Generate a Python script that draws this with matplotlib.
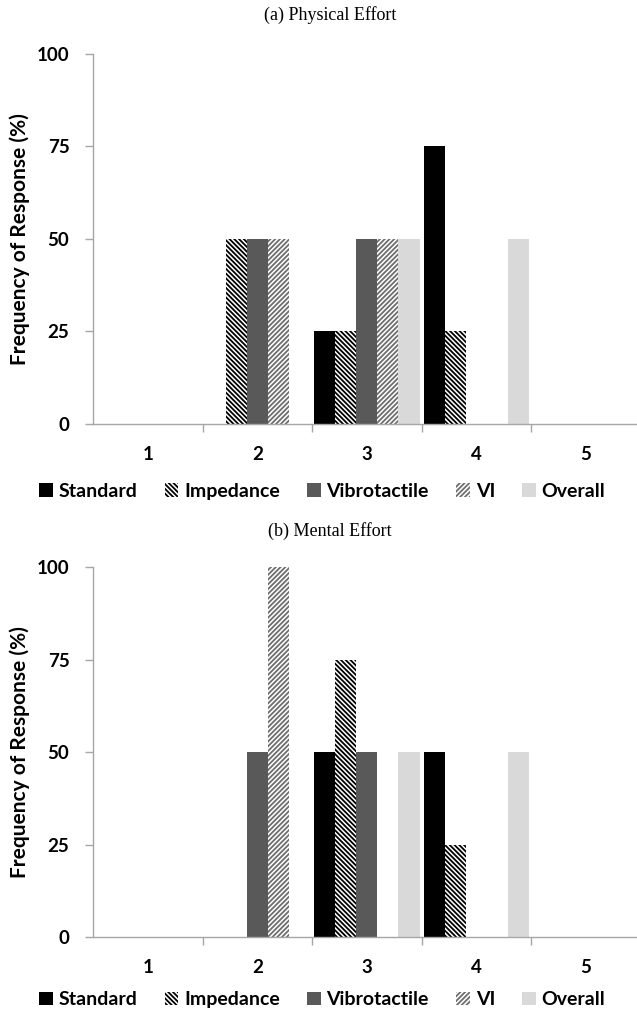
import numpy as np
import matplotlib.pyplot as plt
from matplotlib.patches import Patch

plt.rcParams['hatch.linewidth'] = 1.3

# datos
categorias = ["1", "2", "3", "4", "5"]
series = ["Standard", "Impedance", "Vibrotactile", "VI", "Overall"]

fisico = {
    "Standard":     [0, 0, 25, 75, 0],
    "Impedance":    [0, 50, 25, 25, 0],
    "Vibrotactile": [0, 50, 50, 0, 0],
    "VI":           [0, 50, 50, 0, 0],
    "Overall":      [0, 0, 50, 50, 0],
}
mental = {
    "Standard":     [0, 0, 50, 50, 0],
    "Impedance":    [0, 0, 75, 25, 0],
    "Vibrotactile": [0, 50, 50, 0, 0],
    "VI":           [0, 100, 0, 0, 0],
    "Overall":      [0, 0, 50, 50, 0],
}
yticks = [0, 25, 50, 75, 100]

# estilo de cada serie: (relleno, color de trama, trama)
estilos = {
    "Standard":     ("#000000", "#000000", None),
    "Impedance":    ("white", "#000000", "\\" * 7),
    "Vibrotactile": ("#595959", "#595959", None),
    "VI":           ("white", "#6e6e6e", "/" * 7),
    "Overall":      ("#d9d9d9", "#d9d9d9", None),
}

fuente = "Lato"
gris = "#a6a6a6"

fig = plt.figure(figsize=(6.37, 10.15), dpi=100)

def panel(rect, datos, titulo, y_titulo, y_leyenda):
    ax = fig.add_axes(rect)
    x = np.arange(1, len(categorias) + 1)
    w = 0.192
    for i, s in enumerate(series):
        fc, ec, h = estilos[s]
        ax.bar(x + (i - 2) * w, datos[s], width=w, facecolor=fc,
               edgecolor=ec, hatch=h, linewidth=0)
    ax.set_xlim(0.5, 5.5)
    ax.set_ylim(0, 100)
    ax.set_yticks(yticks)
    ax.set_yticklabels([str(v) for v in yticks], fontsize=13.5,
                       fontweight="bold", family=fuente)
    ax.set_xticks(x)
    ax.set_xticklabels(categorias, fontsize=13.5, fontweight="bold", family=fuente)
    ax.set_xticks(np.arange(1.5, 5.5, 1), minor=True)
    ax.tick_params(axis="x", which="major", length=0, pad=16)
    ax.tick_params(axis="x", which="minor", length=6, color=gris, width=1)
    ax.tick_params(axis="y", length=6, color=gris, width=1, pad=11)
    for lado in ["top", "right"]:
        ax.spines[lado].set_visible(False)
    for lado in ["left", "bottom"]:
        ax.spines[lado].set_color(gris)
        ax.spines[lado].set_linewidth(1)
    ax.set_ylabel("Frequency of Response (%)", fontsize=15, fontweight="bold",
                  family=fuente, labelpad=5)
    fig.text(0.518, y_titulo, titulo, ha="center", va="center",
             family="Liberation Serif", fontsize=13)
    handles = [Patch(facecolor=estilos[s][0], edgecolor=estilos[s][1],
                     hatch=estilos[s][2], linewidth=0) for s in series]
    fig.legend(handles, series, loc="center", bbox_to_anchor=(0.506, y_leyenda),
               ncol=5, frameon=False, handlelength=0.7, handleheight=0.7,
               handletextpad=0.3, columnspacing=1.4,
               prop={"family": fuente, "weight": "bold", "size": 14})
    return ax

panel([0.146, 0.5823, 0.86, 0.3645], fisico, "(a) Physical Effort", 0.985, 0.516)
panel([0.146, 0.0768, 0.86, 0.3645], mental, "(b) Mental Effort", 0.477, 0.0148)

plt.savefig("out.png", dpi=100)
